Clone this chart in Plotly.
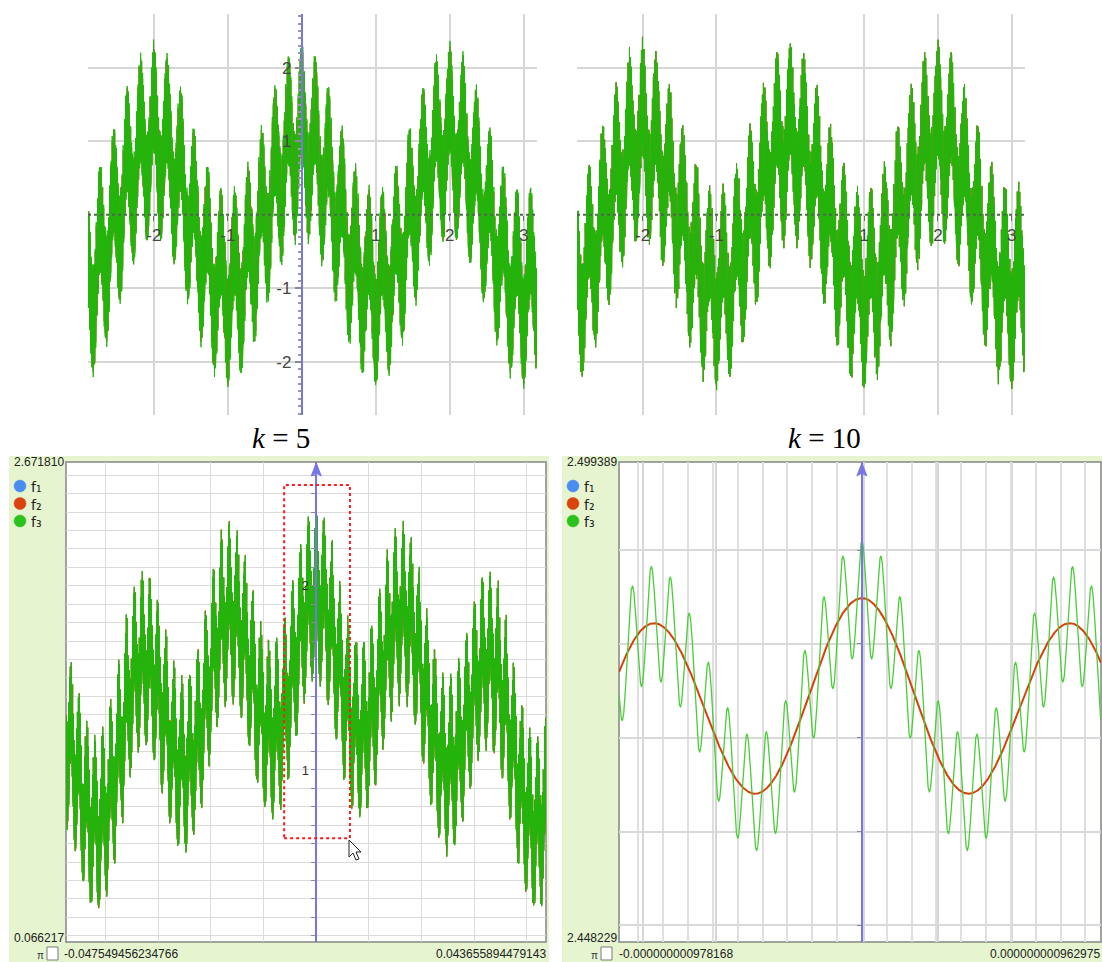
import numpy as np
import plotly.graph_objects as go

W, H = 1102, 962

# f_k(x) = sum_{n=0}^{k} AMP_RATIO**n * cos(FREQ_RATIO**n * pi * x)
AMP_RATIO = 0.6
FREQ_RATIO = 11

# overview plots
overview_terms = [5, 10]
overview_captions = ["<i>k</i> = 5", "<i>k</i> = 10"]
overview_x_range = [-2.89, 3.18]
overview_y_range = [-2.72, 2.73]
overview_x_ticks = [-2, -1, 1, 2, 3]
overview_y_ticks = [-2, -1, 1, 2]

# zoomed plots (k = 10)
zoom_terms = 10
wide_x_range = [-0.047549456234766, 0.043655894479143]
wide_y_range = [0.066217, 2.671810]
wide_y_ticks = [1, 2]
narrow_x_range = [-0.000000000978168, 0.000000000962975]
narrow_y_range = [2.448229, 2.499389]

# dotted selection rectangle on the wide zoom
selection_x = [-0.0061, 0.0064]
selection_y = [0.63, 2.547]

legend_names = ["f\u2081", "f\u2082", "f\u2083"]
legend_colors = ["#4a8cf0", "#d8430f", "#2cc21c"]

RED = "#d2451a"
GREEN = "#22b60c"
AXIS_BLUE = "#7676e6"
PANEL_BG = "#e6f4cf"
FONT = "Liberation Sans"


def series(x, k):
    total = np.zeros_like(x)
    for n in range(k + 1):
        total += AMP_RATIO ** n * np.cos(float(FREQ_RATIO) ** n * np.pi * x)
    return total


def envelope(x_range, k, columns, per_col):
    """Min/max of the series over each screen column, as a zigzag path."""
    xs = np.linspace(x_range[0], x_range[1], columns * per_col)
    ys = series(xs, k).reshape(columns, per_col)
    lo, hi = ys.min(axis=1), ys.max(axis=1)
    xc = xs.reshape(columns, per_col).mean(axis=1)
    even = np.arange(columns) % 2 == 0
    X = np.repeat(xc, 2)
    Y = np.empty(2 * columns)
    Y[0::2] = np.where(even, lo, hi)
    Y[1::2] = np.where(even, hi, lo)
    return X, Y


def fx(px):
    return px / W


def fy(py):
    return 1 - py / H


def zero_pos(rng, dom):
    return dom[0] + (0 - rng[0]) / (rng[1] - rng[0]) * (dom[1] - dom[0])


fig = go.Figure()
layout = dict(
    width=W, height=H, margin=dict(l=0, r=0, t=0, b=0),
    paper_bgcolor="white", plot_bgcolor="rgba(0,0,0,0)",
    showlegend=False, font=dict(family=FONT, color="#333"),
)
shapes, annotations = [], []

# ---------------- overview panels ----------------
over_dom_x = [(fx(88), fx(537)), (fx(577), fx(1025))]
over_dom_y = (fy(415), fy(14))
caption_x = [fx(281), fx(824)]
tick_font = dict(family=FONT, size=17, color="#454545")

for i, k in enumerate(overview_terms):
    sfx = "" if i == 0 else "2"
    ox, oy = str(5 + 2 * i), str(6 + 2 * i)
    xa, ya = "x" + sfx, "y" + sfx
    for kk, col in [(k - 1, RED), (k, GREEN)]:
        X, Y = envelope(overview_x_range, kk, 900, 300)
        fig.add_trace(go.Scatter(x=X, y=Y, mode="lines", xaxis=xa, yaxis=ya,
                                 line=dict(color=col, width=1), hoverinfo="skip"))
    # carriers for the axes drawn through the origin
    fig.add_trace(go.Scatter(x=[None], y=[None], xaxis=xa, yaxis="y" + oy, hoverinfo="skip"))
    fig.add_trace(go.Scatter(x=[None], y=[None], xaxis="x" + ox, yaxis=ya, hoverinfo="skip"))

    layout["xaxis" + sfx] = dict(domain=list(over_dom_x[i]), range=overview_x_range, anchor=ya,
                                 tickmode="array", tickvals=overview_x_ticks, showticklabels=False,
                                 showgrid=True, gridcolor="#d6d6d6", gridwidth=1.5,
                                 zeroline=False, ticks="", fixedrange=True)
    layout["yaxis" + sfx] = dict(domain=list(over_dom_y), range=overview_y_range, anchor=xa,
                                 tickmode="array", tickvals=overview_y_ticks, showticklabels=False,
                                 showgrid=True, gridcolor="#d6d6d6", gridwidth=1.5,
                                 zeroline=False, ticks="", fixedrange=True)
    layout["yaxis" + oy] = dict(overlaying=ya, anchor="free", side="left",
                                position=zero_pos(overview_x_range, over_dom_x[i]),
                                range=overview_y_range, showline=True, linecolor=AXIS_BLUE,
                                linewidth=2, ticks="outside", ticklen=6, tickwidth=1.5,
                                tickcolor="#8a8a8a", tickmode="array", tickvals=overview_y_ticks,
                                ticktext=[str(v) for v in overview_y_ticks], tickfont=tick_font,
                                minor=dict(ticks="outside", tickmode="linear", tick0=0, dtick=0.1,
                                           ticklen=3, tickcolor="#9a9a9a", showgrid=False),
                                showgrid=False, zeroline=False, fixedrange=True)
    layout["xaxis" + ox] = dict(overlaying=xa, anchor="free", side="bottom",
                                position=zero_pos(overview_y_range, over_dom_y),
                                range=overview_x_range, showline=False, ticks="outside",
                                ticklen=5, tickcolor="#6a6a6a", tickmode="array",
                                tickvals=overview_x_ticks,
                                ticktext=[str(v) for v in overview_x_ticks], tickfont=tick_font,
                                showgrid=False, zeroline=False, fixedrange=True)
    # dotted horizontal axis
    shapes.append(dict(type="line", xref=xa, yref=ya, x0=overview_x_range[0],
                       x1=overview_x_range[1], y0=0, y1=0,
                       line=dict(color="#4e684e", width=2, dash="dot")))
    annotations.append(dict(text=overview_captions[i], xref="paper", yref="paper",
                            x=caption_x[i], y=fy(438),
                            showarrow=False, xanchor="center", yanchor="middle",
                            font=dict(family="Liberation Serif", size=29, color="black")))

# ---------------- zoomed panels ----------------
zoom_specs = [
    dict(sfx="3", ov="7", rng_x=wide_x_range, rng_y=wide_y_range, dom_x=(fx(66), fx(546)),
         bg=(9, 549), dx=0.01, dy=0.1, label_left=12, pi_x=40, box_x=47, xlab_left=62,
         xlab_right=548),
    dict(sfx="4", ov="8", rng_x=narrow_x_range, rng_y=narrow_y_range, dom_x=(fx(619), fx(1101)),
         bg=(562, 1102), dx=1e-10, dy=0.01, label_left=565, pi_x=594, box_x=601, xlab_left=617,
         xlab_right=1102),
]
zoom_dom_y = (fy(942), fy(462))

for j, sp in enumerate(zoom_specs):
    xa, ya, oy = "x" + sp["sfx"], "y" + sp["sfx"], "y" + sp["ov"]
    # panel background and white plotting area
    shapes.append(dict(type="rect", xref="paper", yref="paper", layer="below",
                       x0=fx(sp["bg"][0]), x1=fx(sp["bg"][1]), y0=fy(962), y1=fy(456),
                       fillcolor=PANEL_BG, line=dict(width=0)))
    shapes.append(dict(type="rect", xref="paper", yref="paper", layer="below",
                       x0=sp["dom_x"][0], x1=sp["dom_x"][1], y0=zoom_dom_y[0], y1=zoom_dom_y[1],
                       fillcolor="white", line=dict(color="#858585", width=1.5)))

    if j == 0:
        for kk, col in [(zoom_terms - 1, RED), (zoom_terms, GREEN)]:
            X, Y = envelope(sp["rng_x"], kk, 960, 200)
            fig.add_trace(go.Scatter(x=X, y=Y, mode="lines", xaxis=xa, yaxis=ya,
                                     line=dict(color=col, width=1), hoverinfo="skip"))
        grid_v = dict(gridcolor="#dadada", gridwidth=1)
        grid_h = dict(gridcolor="#dadada", gridwidth=1)
    else:
        xs = np.linspace(sp["rng_x"][0], sp["rng_x"][1], 3000)
        fig.add_trace(go.Scatter(x=xs, y=series(xs, zoom_terms - 1), mode="lines",
                                 xaxis=xa, yaxis=ya, line=dict(color="#d9400e", width=2),
                                 hoverinfo="skip"))
        fig.add_trace(go.Scatter(x=xs, y=series(xs, zoom_terms), mode="lines",
                                 xaxis=xa, yaxis=ya, line=dict(color="#48cf36", width=1.3),
                                 hoverinfo="skip"))
        grid_v = dict(gridcolor="#dfdfdf", gridwidth=1.5)
        grid_h = dict(gridcolor="#d9d9d9", gridwidth=1.5)
    fig.add_trace(go.Scatter(x=[None], y=[None], xaxis=xa, yaxis=oy, hoverinfo="skip"))

    # grid positions: whole multiples of the grid step inside the range
    gx = np.arange(np.ceil(sp["rng_x"][0] / sp["dx"]), np.floor(sp["rng_x"][1] / sp["dx"]) + 1)
    gy = np.arange(np.ceil(sp["rng_y"][0] / sp["dy"]), np.floor(sp["rng_y"][1] / sp["dy"]) + 1)
    layout["xaxis" + sp["sfx"]] = dict(domain=list(sp["dom_x"]), range=sp["rng_x"], anchor=ya,
                                       tickmode="array", tickvals=list(gx * sp["dx"]),
                                       showticklabels=False, showgrid=True, zeroline=False,
                                       ticks="", fixedrange=True, **grid_v)
    layout["yaxis" + sp["sfx"]] = dict(domain=list(zoom_dom_y), range=sp["rng_y"], anchor=xa,
                                       tickmode="array", tickvals=list(gy * sp["dy"]),
                                       showticklabels=False, showgrid=True, zeroline=False,
                                       ticks="", fixedrange=True, **grid_h)
    oy_axis = dict(overlaying=ya, anchor="free", side="left",
                   position=zero_pos(sp["rng_x"], sp["dom_x"]), range=sp["rng_y"],
                   showline=True, linecolor=AXIS_BLUE, linewidth=1.5, ticks="outside",
                   ticklen=4, tickcolor="#8a8a8a", showgrid=False, zeroline=False,
                   fixedrange=True)
    if j == 0:
        oy_axis.update(tickmode="array", tickvals=wide_y_ticks,
                       ticktext=[str(v) for v in wide_y_ticks],
                       tickfont=dict(family=FONT, size=13, color="#333"),
                       minor=dict(ticks="outside", tickmode="linear", tick0=0, dtick=0.1,
                                  ticklen=4, tickcolor="#8a8a8a", showgrid=False))
    else:
        oy_axis.update(tickmode="array", tickvals=list(gy * sp["dy"]), showticklabels=False)
    layout["yaxis" + sp["ov"]] = oy_axis

    # arrow head at the top of the vertical axis
    ax0 = zero_pos(sp["rng_x"], sp["dom_x"]) * W
    head = [(ax0, 463), (ax0 - 5, 476), (ax0, 473), (ax0 + 5, 476)]
    shapes.append(dict(type="path", xref="paper", yref="paper",
                       path="M " + " L ".join(f"{fx(a):.5f},{fy(b):.5f}" for a, b in head) + " Z",
                       fillcolor=AXIS_BLUE, line=dict(color=AXIS_BLUE, width=1)))

    # range labels
    lab_font = dict(family=FONT, size=12, color="#222")
    annotations += [
        dict(text=f"{sp['rng_y'][1]:.6f}", xref="paper", yref="paper", x=fx(sp["label_left"]),
             y=fy(462), xanchor="left", yanchor="middle", showarrow=False, font=lab_font),
        dict(text=f"{sp['rng_y'][0]:.6f}", xref="paper", yref="paper", x=fx(sp["label_left"]),
             y=fy(938), xanchor="left", yanchor="middle", showarrow=False, font=lab_font),
        dict(text=f"{sp['rng_x'][0]:.15f}", xref="paper", yref="paper", x=fx(sp["xlab_left"]),
             y=fy(954), xanchor="left", yanchor="middle", showarrow=False, font=lab_font),
        dict(text=f"{sp['rng_x'][1]:.15f}", xref="paper", yref="paper", x=fx(sp["xlab_right"]),
             y=fy(954), xanchor="right", yanchor="middle", showarrow=False, font=lab_font),
        dict(text="π", xref="paper", yref="paper", x=fx(sp["pi_x"]), y=fy(955),
             xanchor="center", yanchor="middle", showarrow=False,
             font=dict(family=FONT, size=10, color="#334")),
    ]
    shapes.append(dict(type="rect", xref="paper", yref="paper",
                       x0=fx(sp["box_x"]), x1=fx(sp["box_x"] + 11), y0=fy(960), y1=fy(947),
                       fillcolor="white", line=dict(color="#7a7a7a", width=1)))

    # legend
    legend_x = sp["bg"][0] + 11
    for m, (name, col) in enumerate(zip(legend_names, legend_colors)):
        cy = 486 + 17.5 * m
        shapes.append(dict(type="circle", xref="paper", yref="paper",
                           x0=fx(legend_x - 6), x1=fx(legend_x + 6), y0=fy(cy + 6), y1=fy(cy - 6),
                           fillcolor=col, line=dict(color=col, width=0.5)))
        annotations.append(dict(text=name, xref="paper", yref="paper", x=fx(legend_x + 9),
                                y=fy(cy + 1), xanchor="left", yanchor="middle", showarrow=False,
                                font=dict(family="DejaVu Sans", size=14, color="#222")))

# dotted selection rectangle
shapes.append(dict(type="rect", xref="x3", yref="y3", x0=selection_x[0], x1=selection_x[1],
                   y0=selection_y[0], y1=selection_y[1],
                   line=dict(color="#ff1a1a", width=2, dash="dot")))

# mouse pointer at the selection corner
tip = (349, 840)
pointer = [(0, 0), (0, 17), (4, 13), (7, 20), (10, 19), (7, 12), (12, 12)]
path = "M " + " L ".join(f"{fx(tip[0] + a):.5f},{fy(tip[1] + b):.5f}" for a, b in pointer) + " Z"
shapes.append(dict(type="path", xref="paper", yref="paper", path=path,
                   fillcolor="white", line=dict(color="#222", width=1)))

layout["shapes"] = shapes
layout["annotations"] = annotations
fig.update_layout(**layout)
fig.write_html("out.html")
